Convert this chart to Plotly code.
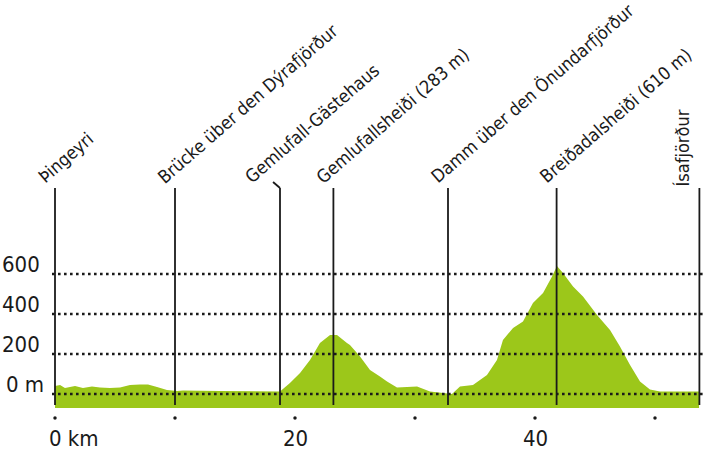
import plotly.graph_objects as go

# Elevation profile (distance in km, elevation in m)
km = [0.0, 0.42, 0.83, 1.67, 2.33, 3.08, 3.75, 4.58, 5.42, 6.25, 7.08, 7.75, 8.5, 9.33,
      10.17, 10.67, 13.75, 17.08, 18.75, 19.58, 20.42, 21.25, 22.08, 22.92, 23.5, 24.33,
      24.58, 25.42, 26.25, 27.08, 27.67, 28.5, 30.17, 31.25, 32.67, 33.08, 33.75, 34.83,
      36.0, 36.83, 37.33, 38.17, 39.0, 39.83, 40.67, 41.42, 41.83, 42.33, 43.17, 44.0,
      45.17, 46.25, 47.08, 47.92, 48.75, 49.58, 50.42, 53.67]
elev = [40, 45, 30, 40, 30, 37, 33, 30, 33, 45, 48, 48, 35, 20,
        15, 18, 15, 15, 12, 55, 105, 170, 255, 295, 295, 255,
        245, 187, 120, 87, 62, 33, 37, 12, 5, 0, 37, 45,
        95, 170, 270, 330, 362, 455, 505, 587, 640, 605, 537, 487,
        395, 320, 237, 145, 62, 23, 12, 12]

# Points of interest
poi_names = ["Þingeyri", "Brücke über den Dýrafjörður", "Gemlufall-Gästehaus",
             "Gemlufallsheiði (283 m)", "Damm über den Önundarfjörður",
             "Breiðadalsheiði (610 m)", "Ísafjörður"]
poi_km = [0.0, 10.0, 18.75, 23.2, 32.75, 41.8, 53.7]

# Axis labels
ytick_vals = [0, 200, 400, 600]
ytick_text = ["0 m", "200", "400", "600"]
xtick_km = [0, 10, 20, 30, 40, 50]
xlabel_km = [0, 20, 40]
xlabel_text = ["0 km", "20", "40"]

GREEN = "#9cc71a"
INK = "#1a1a1a"
FONT = "DejaVu Sans Condensed, Roboto, sans-serif"

BASE = -70
LINE_TOP = 1030
LINE_BOTTOM = -55
GRID_X0, GRID_X1 = -0.25, 54.2

fig = go.Figure()

# baseline + terrain fill
fig.add_trace(go.Scatter(x=[km[0], km[-1]], y=[BASE, BASE], mode="lines",
                         line=dict(width=0), hoverinfo="skip", showlegend=False))
fig.add_trace(go.Scatter(x=km, y=elev, mode="lines", fill="tonexty",
                         fillcolor=GREEN, line=dict(width=0, color=GREEN),
                         showlegend=False))

# dotted horizontal grid lines
gx, gy = [], []
for v in ytick_vals:
    gx += [GRID_X0, GRID_X1, None]
    gy += [v, v, None]
fig.add_trace(go.Scatter(x=gx, y=gy, mode="lines",
                         line=dict(color=INK, width=2.6, dash="2.6px,3.4px"),
                         hoverinfo="skip", showlegend=False))

# vertical marker lines
vx, vy = [], []
for name, k in zip(poi_names, poi_km):
    vx += [k, k, None]
    vy += [LINE_BOTTOM, LINE_TOP, None]
# small kink for Gemlufall-Gästehaus
k = poi_km[2]
vx += [k, k - 0.58, None]
vy += [LINE_TOP, LINE_TOP + 30, None]
fig.add_trace(go.Scatter(x=vx, y=vy, mode="lines", line=dict(color=INK, width=1.8),
                         hoverinfo="skip", showlegend=False))

# x tick dots
fig.add_trace(go.Scatter(x=xtick_km, y=[-120] * len(xtick_km), mode="markers",
                         marker=dict(color=INK, size=3.5), hoverinfo="skip",
                         showlegend=False))

ann = []
for v, t in zip(ytick_vals, ytick_text):
    ann.append(dict(x=-0.25, y=v, xref="x", yref="y", text=t, showarrow=False,
                    xanchor="right", yanchor="middle", xshift=-10 if v else -6, yshift=10,
                    font=dict(family=FONT, size=22, color=INK)))
for k, t in zip(xlabel_km, xlabel_text):
    ann.append(dict(x=k, y=-220, xref="x", yref="y", text=t, showarrow=False,
                    xanchor="left" if k == 0 else "center", yanchor="middle",
                    xshift=-8 if k == 0 else 0,
                    font=dict(family=FONT, size=22, color=INK)))
for i, (name, k) in enumerate(zip(poi_names, poi_km)):
    if i == len(poi_names) - 1:
        ann.append(dict(x=k, y=LINE_TOP, xref="x", yref="y", text=name, showarrow=False,
                        textangle=-90, xanchor="right", yanchor="bottom", xshift=-4,
                        font=dict(family=FONT, size=18, color=INK)))
    else:
        xs = -42 if i == 2 else -24
        ann.append(dict(x=k, y=LINE_TOP, xref="x", yref="y", text=name, showarrow=False,
                        textangle=-41, xanchor="left", yanchor="bottom", xshift=xs,
                        yshift=-2,
                        font=dict(family=FONT, size=18, color=INK)))

fig.update_layout(
    width=712, height=455, margin=dict(l=0, r=0, t=0, b=0),
    paper_bgcolor="white", plot_bgcolor="white",
    xaxis=dict(range=[-55 / 12, 657 / 12], visible=False, fixedrange=True),
    yaxis=dict(range=[-305, 1970], visible=False, fixedrange=True),
    annotations=ann, showlegend=False,
)

fig.write_html("out.html", config={"displayModeBar": False},
               post_script="document.body.style.margin='0';")
